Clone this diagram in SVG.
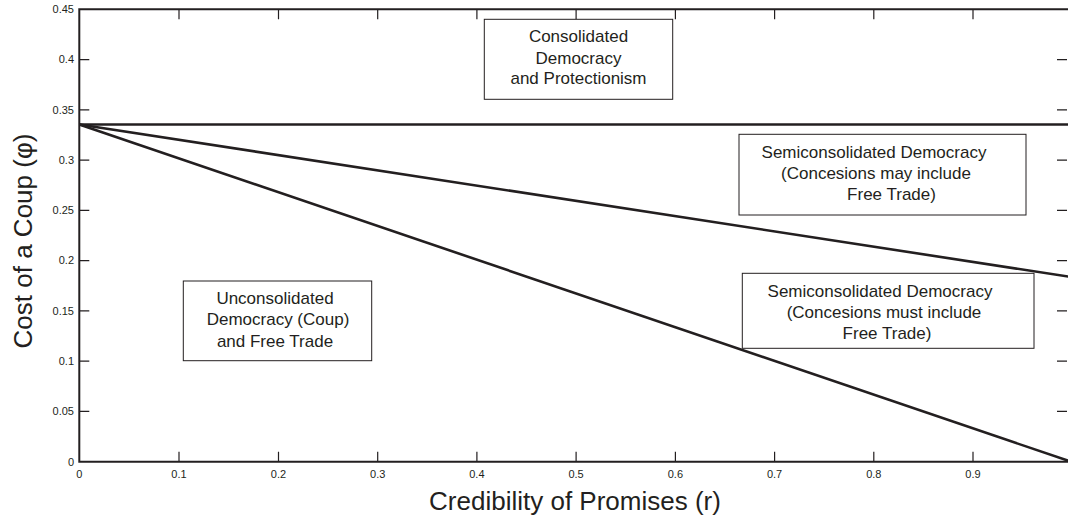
<svg xmlns="http://www.w3.org/2000/svg" width="1068" height="523" viewBox="0 0 1068 523">
<style>
.tick{stroke:#231f20;stroke-width:1.2;fill:none}
.axis{stroke:#231f20;stroke-width:2;fill:none}
.curve{stroke:#231f20;stroke-width:2.6;fill:none}
.box{fill:#fff;stroke:#231f20;stroke-width:1}
.tl{font-family:"Liberation Sans",Arial,sans-serif;font-size:11px;fill:#231f20}
.lbl{font-family:"Liberation Sans",Arial,sans-serif;font-size:17px;fill:#231f20;text-anchor:middle}
.ax{font-family:"Liberation Sans",Arial,sans-serif;font-size:26px;fill:#231f20;text-anchor:middle}
</style>
<rect width="1068" height="523" fill="#fff"/>
<g id="axes">
<path class="tick" d="M179,9.3v10 M278.5,9.3v10 M377.7,9.3v10 M476.9,9.3v10 M576.1,9.3v10 M675.4,9.3v10 M774.6,9.3v10 M873.8,9.3v10 M973,9.3v10
M179,461.7v-10 M278.5,461.7v-10 M377.7,461.7v-10 M476.9,461.7v-10 M576.1,461.7v-10 M675.4,461.7v-10 M774.6,461.7v-10 M873.8,461.7v-10 M973,461.7v-10
M79.3,411.4h10 M79.3,361.1h10 M79.3,310.9h10 M79.3,260.6h10 M79.3,210.4h10 M79.3,160.1h10 M79.3,109.8h10 M79.3,59.6h10
M1067,411.4h-10 M1067,361.1h-10 M1067,310.9h-10 M1067,260.6h-10 M1067,210.4h-10 M1067,160.1h-10 M1067,109.8h-10 M1067,59.6h-10"/>
<path class="axis" d="M1070,9.3H79.3V461.7H1070"/>
</g>
<g id="tick-labels" class="tl">
<g text-anchor="end">
<text x="74" y="465.5">0</text>
<text x="74" y="415">0.05</text>
<text x="74" y="365">0.1</text>
<text x="74" y="314.7">0.15</text>
<text x="74" y="264.4">0.2</text>
<text x="74" y="214.2">0.25</text>
<text x="74" y="163.9">0.3</text>
<text x="74" y="113.6">0.35</text>
<text x="74" y="63.4">0.4</text>
<text x="74" y="13.1">0.45</text>
</g>
<g text-anchor="middle">
<text x="79.3" y="478">0</text>
<text x="179" y="478">0.1</text>
<text x="278.5" y="478">0.2</text>
<text x="377.7" y="478">0.3</text>
<text x="476.9" y="478">0.4</text>
<text x="576.1" y="478">0.5</text>
<text x="675.4" y="478">0.6</text>
<text x="774.6" y="478">0.7</text>
<text x="873.8" y="478">0.8</text>
<text x="973" y="478">0.9</text>
</g>
</g>
<g id="connectors">
<line class="curve" x1="79.3" y1="124.5" x2="1070" y2="124.5"/>
<line class="curve" x1="79.3" y1="124.5" x2="1071" y2="277"/>
<line class="curve" x1="79.3" y1="124.5" x2="1071" y2="461.7"/>
</g>
<g id="node-consolidated">
<rect class="box" x="484.3" y="19.3" width="188.4" height="80"/>
<text class="lbl" x="578.5" y="42">Consolidated</text>
<text class="lbl" x="578.5" y="63.7">Democracy</text>
<text class="lbl" x="578.5" y="84.3">and Protectionism</text>
</g>
<g id="node-semi-may">
<rect class="box" x="739" y="134.3" width="287" height="80.7"/>
<text class="lbl" x="874" y="158.3">Semiconsolidated Democracy</text>
<text class="lbl" x="876" y="179.3">(Concesions may include</text>
<text class="lbl" x="891.5" y="200">Free Trade)</text>
</g>
<g id="node-semi-must">
<rect class="box" x="742.3" y="273.3" width="291.7" height="75"/>
<text class="lbl" x="880" y="296.7">Semiconsolidated Democracy</text>
<text class="lbl" x="884" y="317.7">(Concesions must include</text>
<text class="lbl" x="887" y="338.7">Free Trade)</text>
</g>
<g id="node-unconsolidated">
<rect class="box" x="183.3" y="281" width="188.4" height="79.7"/>
<text class="lbl" x="275" y="303.7">Unconsolidated</text>
<text class="lbl" x="278" y="325.3">Democracy (Coup)</text>
<text class="lbl" x="275" y="346.7">and Free Trade</text>
</g>
<g id="axis-titles">
<text class="ax" x="575" y="510">Credibility of Promises (r)</text>
<text class="ax" transform="translate(32,241) rotate(-90)">Cost of a Coup (φ)</text>
</g>
</svg>
